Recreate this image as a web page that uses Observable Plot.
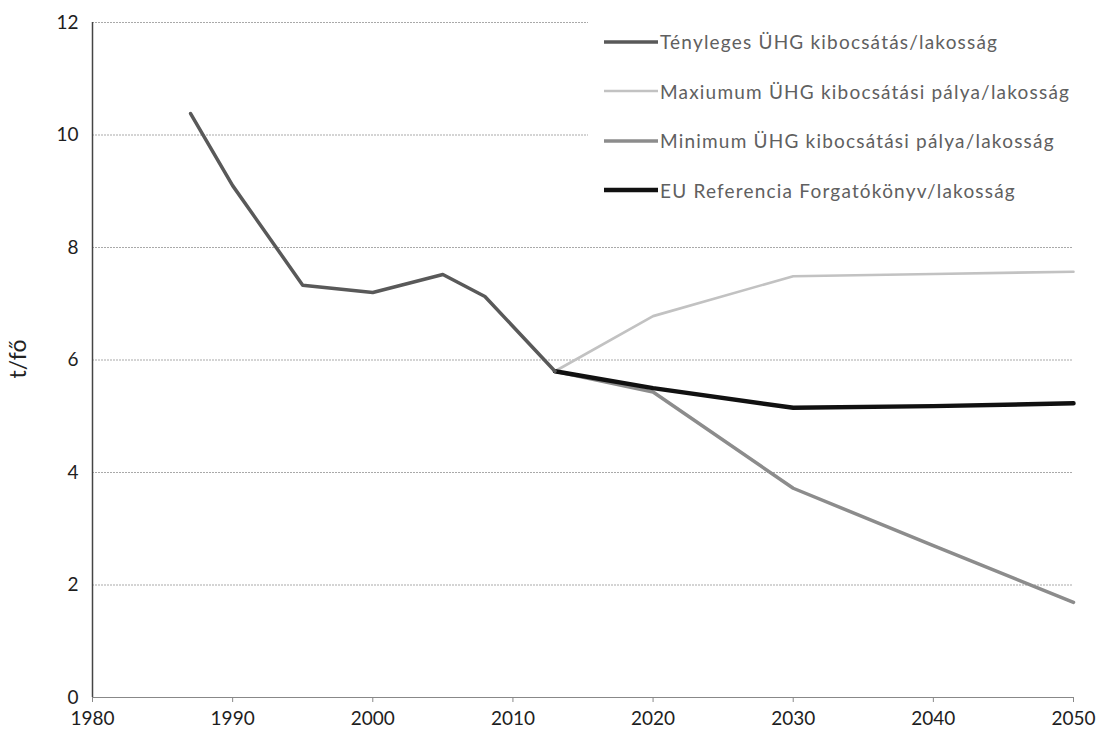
<!DOCTYPE html>
<html>
<head>
<meta charset="utf-8">
<script src="https://cdn.jsdelivr.net/npm/d3@7"></script>
<script src="https://cdn.jsdelivr.net/npm/@observablehq/plot@0.6"></script>
<style>
  html, body { margin: 0; padding: 0; background: #fff; }
  #wrap { position: relative; width: 1101px; height: 737px; font-family: Lato, "Open Sans", sans-serif; }
  #legend { position: absolute; left: 588px; top: 13px; width: 500px; background: #fff; padding: 4px 0 8px 10px; }
  .row { display: flex; align-items: center; height: 49.5px; }
  .sw { width: 54px; margin-left: 6px; margin-right: 2px; }
  .lbl { font-size: 19px; color: #606060; letter-spacing: 1.2px; }
</style>
</head>
<body>
<div id="wrap"></div>
<script>
// ---- data ----
const seriesNames = [
  "Tényleges ÜHG kibocsátás/lakosság",
  "Maxiumum ÜHG kibocsátási pálya/lakosság",
  "Minimum ÜHG kibocsátási pálya/lakosság",
  "EU Referencia Forgatókönyv/lakosság"
];
const actualYears = [1987, 1990, 1995, 2000, 2005, 2008, 2013];
const actualValues = [10.38, 9.1, 7.33, 7.2, 7.52, 7.13, 5.8];
const maxYears = [2013, 2020, 2030, 2040, 2050];
const maxValues = [5.8, 6.78, 7.49, 7.53, 7.57];
const minYears = [2013, 2020, 2030, 2040, 2050];
const minValues = [5.8, 5.43, 3.72, 2.7, 1.69];
const euYears = [2013, 2020, 2030, 2040, 2050];
const euValues = [5.8, 5.5, 5.15, 5.18, 5.23];
const xTicks = [1980, 1990, 2000, 2010, 2020, 2030, 2040, 2050];
const yTicks = [0, 2, 4, 6, 8, 10, 12];
const yLabel = "t/fő";

const styles = [
  {stroke: "#595959", width: 3.5},
  {stroke: "#c2c2c2", width: 2.6},
  {stroke: "#8c8c8c", width: 3.5},
  {stroke: "#111111", width: 4.5}
];

const toRows = (ys, vs) => ys.map((y, i) => ({year: y, value: vs[i]}));
const series = [
  toRows(actualYears, actualValues),
  toRows(maxYears, maxValues),
  toRows(minYears, minValues),
  toRows(euYears, euValues)
];

const chart = Plot.plot({
  width: 1101,
  height: 737,
  marginLeft: 92,
  marginRight: 28,
  marginTop: 22,
  marginBottom: 40,
  style: {fontFamily: "Lato, 'Open Sans', sans-serif", fontSize: "19px", color: "#1e1e1e", background: "#fff"},
  x: {domain: [1980, 2050], ticks: xTicks, tickFormat: "d", label: null},
  y: {domain: [0, 12], ticks: yTicks, label: null},
  marks: [
    Plot.gridY(yTicks, {stroke: "#9a9a9a", strokeOpacity: 0.85, strokeWidth: 1, strokeDasharray: "2,1"}),
    Plot.axisX({ticks: xTicks, tickFormat: "d", tickSize: 5, tickPadding: 9, stroke: "#888", label: null}),
    Plot.axisY({ticks: yTicks, tickSize: 0, tickPadding: 14, label: null}),
    Plot.ruleY([0], {stroke: "#888", strokeWidth: 1}),
    Plot.ruleX([1980], {stroke: "#444", strokeWidth: 1.5}),
    ...[1, 2, 3, 0].map(i => Plot.line(series[i], {
      x: "year", y: "value", stroke: styles[i].stroke, strokeWidth: styles[i].width, strokeLinejoin: "round"
    }))
  ]
});

const wrap = document.getElementById("wrap");
wrap.appendChild(chart);

const svg = d3.select(chart);
svg.selectAll("text").attr("font-size", 19).style("font-size", "19px");

// y-axis title
svg.append("text")
  .attr("transform", "translate(26,359) rotate(-90)")
  .attr("text-anchor", "middle")
  .style("font-size", "23px")
  .attr("fill", "#222")
  .text(yLabel);

// legend (HTML overlay with white background)
const legend = document.createElement("div");
legend.id = "legend";
seriesNames.forEach((name, i) => {
  const row = document.createElement("div");
  row.className = "row";
  row.innerHTML = `<svg class="sw" width="54" height="8"><line x1="0" x2="54" y1="4" y2="4" stroke="${styles[i].stroke}" stroke-width="${styles[i].width}"/></svg><span class="lbl"></span>`;
  row.querySelector(".lbl").textContent = name;
  legend.appendChild(row);
});
wrap.appendChild(legend);
</script>
</body>
</html>
